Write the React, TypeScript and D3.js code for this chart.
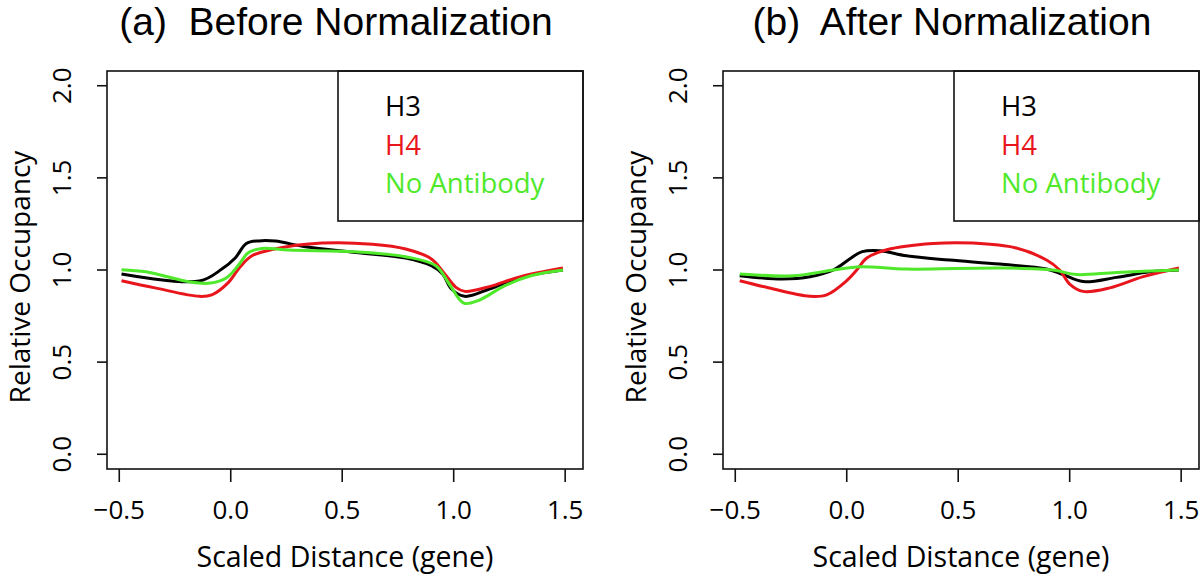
import React from "react";
import * as d3 from "d3";

const xTicks = [-0.5, 0, 0.5, 1, 1.5];
const yTicks = [0, 0.5, 1, 1.5, 2];
const seriesNames = ["H3", "H4", "No Antibody"];
const seriesColors = ["#000000", "#e8161c", "#4fe82b"];

// [scaled distance, relative occupancy]
const beforeH3 = [
  [-0.49, 0.978], [-0.14, 0.94], [-0.04, 1.005], [0.02, 1.065], [0.07, 1.144],
  [0.125, 1.158], [0.2, 1.157], [0.335, 1.126], [0.56, 1.095], [0.785, 1.065],
  [0.9, 1.023], [0.95, 0.978], [0.99, 0.897], [1.05, 0.857], [1.16, 0.897],
  [1.3, 0.96], [1.49, 1.0],
];
const beforeH4 = [
  [-0.49, 0.942], [-0.34, 0.903], [-0.14, 0.857], [-0.085, 0.865], [-0.01, 0.933],
  [0.04, 1.014], [0.095, 1.077], [0.185, 1.111], [0.41, 1.146], [0.635, 1.14],
  [0.785, 1.114], [0.9, 1.06], [0.96, 0.978], [1.01, 0.906], [1.05, 0.884],
  [1.16, 0.91], [1.3, 0.964], [1.49, 1.011],
];
const beforeNoAb = [
  [-0.49, 1.002], [-0.38, 0.99], [-0.19, 0.937], [-0.1, 0.928], [-0.02, 0.957],
  [0.035, 1.027], [0.08, 1.095], [0.14, 1.117], [0.26, 1.108], [0.56, 1.099],
  [0.785, 1.072], [0.92, 1.023], [0.98, 0.924], [1.045, 0.82], [1.11, 0.834],
  [1.23, 0.915], [1.35, 0.97], [1.49, 1.0],
];
const afterH3 = [
  [-0.48, 0.969], [-0.29, 0.951], [-0.165, 0.963], [-0.06, 1.0], [0.013, 1.06],
  [0.07, 1.1], [0.148, 1.105], [0.268, 1.077], [0.46, 1.054], [0.686, 1.032],
  [0.896, 1.005], [0.97, 0.975], [1.06, 0.937], [1.21, 0.96], [1.36, 0.99],
  [1.49, 1.0],
];
const afterH4 = [
  [-0.48, 0.942], [-0.36, 0.906], [-0.165, 0.857], [-0.09, 0.865], [0.0, 0.942],
  [0.045, 1.0], [0.09, 1.065], [0.18, 1.11], [0.387, 1.144], [0.566, 1.146],
  [0.76, 1.119], [0.896, 1.054], [0.955, 1.0], [1.0, 0.924], [1.06, 0.884],
  [1.18, 0.903], [1.33, 0.964], [1.49, 1.011],
];
const afterNoAb = [
  [-0.48, 0.978], [-0.24, 0.969], [-0.06, 1.0], [0.06, 1.018], [0.268, 1.005],
  [0.686, 1.011], [0.925, 1.0], [1.03, 0.975], [1.21, 0.987], [1.49, 1.0],
];

const fmt = (v: number) => (v < 0 ? "\u2212" : "") + Math.abs(v).toFixed(1);
const axisFont = "'Open Sans', 'Noto Sans', sans-serif";

function Panel({ title, series, left }: { title: string; series: number[][][]; left: number }) {
  const right = left + 476;
  const top = 71;
  const bottom = 469;
  const x = d3.scaleLinear().domain([-0.555, 1.58]).range([left, right]);
  const y = d3.scaleLinear().domain([-0.08, 2.08]).range([bottom, top]);
  const line = d3
    .line<number[]>()
    .x((d) => x(d[0]))
    .y((d) => y(d[1]))
    .curve(d3.curveCatmullRom.alpha(0.5));
  const legLeft = right - 245;
  const legBottom = 221;
  const cx = (left + right) / 2;

  return (
    <g>
      <text
        x={cx - 9}
        y={35}
        textAnchor="middle"
        fontSize={39}
        fontFamily="'Liberation Sans', Arial, sans-serif"
        style={{ whiteSpace: "pre" }}
      >
        {title}
      </text>
      {series.map((s, i) => (
        <path key={i} d={line(s) || ""} fill="none" stroke={seriesColors[i]} strokeWidth={3} />
      ))}
      <rect x={left} y={top} width={right - left} height={bottom - top} fill="none" stroke="#111" strokeWidth={1.6} />
      <rect x={legLeft} y={top} width={right - legLeft} height={legBottom - top} fill="none" stroke="#111" strokeWidth={1.6} />
      {seriesNames.map((n, i) => (
        <text key={n} x={legLeft + 47} y={[116, 155, 193][i]} fontSize={27.5} fill={seriesColors[i]} fontFamily={axisFont}>
          {n}
        </text>
      ))}
      {/* x axis */}
      {xTicks.map((t) => (
        <g key={t}>
          <line x1={x(t)} x2={x(t)} y1={bottom} y2={bottom + 13} stroke="#111" strokeWidth={1.6} />
          <text x={x(t)} y={519} textAnchor="middle" fontSize={26} fontFamily={axisFont}>
            {fmt(t)}
          </text>
        </g>
      ))}
      <text x={cx} y={567} textAnchor="middle" fontSize={28.5} fontFamily={axisFont}>
        Scaled Distance (gene)
      </text>
      {/* y axis */}
      {yTicks.map((t) => (
        <g key={t}>
          <line x1={left} x2={left - 10} y1={y(t)} y2={y(t)} stroke="#111" strokeWidth={1.6} />
          <text
            transform={`translate(${left - 36},${y(t)}) rotate(-90)`}
            textAnchor="middle"
            fontSize={26}
            fontFamily={axisFont}
          >
            {fmt(t)}
          </text>
        </g>
      ))}
      <text
        transform={`translate(${left - 77},277) rotate(-90)`}
        textAnchor="middle"
        fontSize={28}
        fontFamily={axisFont}
      >
        Relative Occupancy
      </text>
    </g>
  );
}

export default function App() {
  return (
    <svg width={1200} height={577} style={{ position: "absolute", left: 0, top: 0, background: "#fff" }}>
      <rect width={1200} height={577} fill="#fff" />
      <Panel title="(a)  Before Normalization" series={[beforeH3, beforeH4, beforeNoAb]} left={107} />
      <Panel title="(b)  After Normalization" series={[afterH3, afterH4, afterNoAb]} left={723} />
    </svg>
  );
}
